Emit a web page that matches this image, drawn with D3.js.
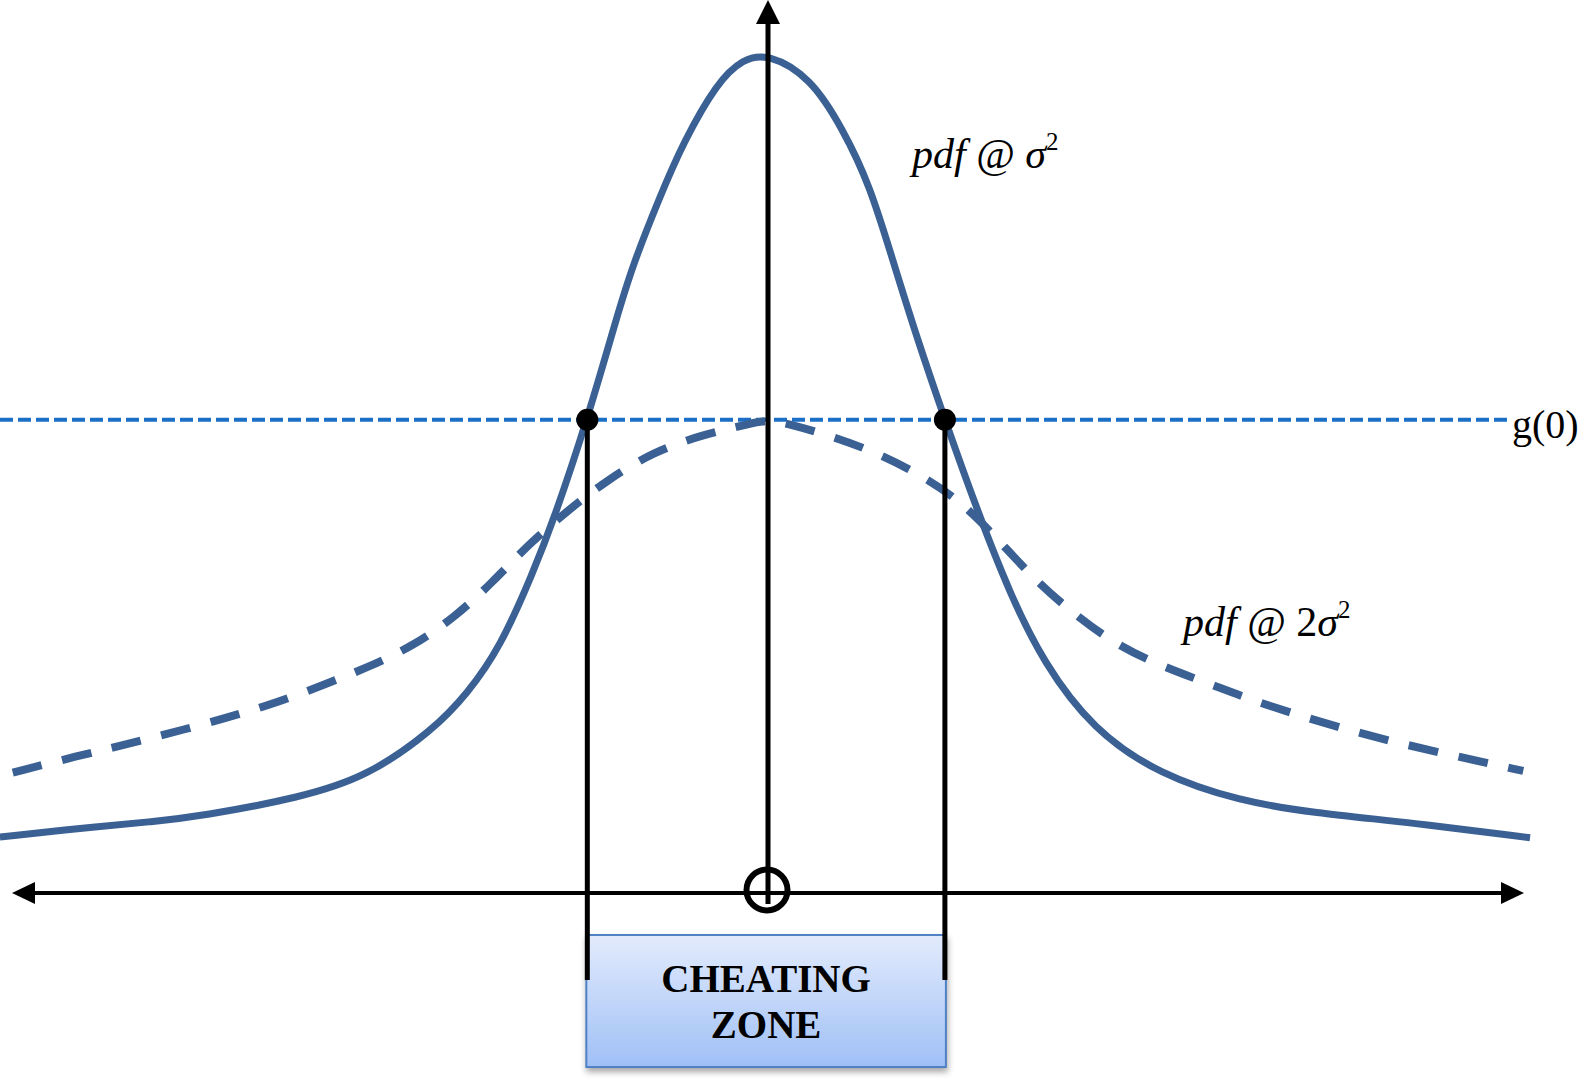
<!DOCTYPE html>
<html>
<head>
<meta charset="utf-8">
<script src="https://cdn.jsdelivr.net/npm/d3@7"></script>
<style>
  body { margin: 0; background: #fff; }
  svg { display: block; }
  text { font-family: "Liberation Serif", "Times New Roman", serif; fill: #000; }
</style>
</head>
<body>
<script>
// readings: x in axis units (0 = origin), y as share of the sigma^2 peak
var narrowX = [-10.16, -8.82, -8.17, -7.49, -6.19, -5.30, -4.43, -3.98, -3.54, -3.11, -2.84, -2.39, -2.00, -1.79, -1.43, -1.12, -0.67, -0.33, 0,
               0.56, 0.99, 1.35, 1.65, 1.97, 2.34, 2.77, 3.20, 3.64, 4.30, 5.19, 6.24, 7.20, 8.53, 10.08];
var narrowY = [0.067, 0.080, 0.085, 0.092, 0.114, 0.139, 0.195, 0.238, 0.294, 0.383, 0.445, 0.566, 0.689, 0.751, 0.833, 0.898, 0.970, 0.998, 1.004,
               0.976, 0.914, 0.846, 0.757, 0.664, 0.566, 0.457, 0.358, 0.276, 0.195, 0.141, 0.110, 0.096, 0.084, 0.066];

var wideX = [-9.99, -9.13, -8.47, -7.49, -6.61, -5.93, -5.29, -4.68, -4.13, -3.65, -3.17, -2.63, -2.11, -1.51, -0.87, -0.21, 0,
             0.28, 0.86, 1.49, 2.10, 2.61, 3.12, 3.57, 4.07, 4.62, 5.24, 5.88, 6.53, 7.87, 9.13, 9.99];
var wideY = [0.144, 0.164, 0.178, 0.201, 0.224, 0.247, 0.270, 0.296, 0.331, 0.371, 0.417, 0.459, 0.495, 0.528, 0.548, 0.562, 0.566,
             0.561, 0.546, 0.525, 0.496, 0.464, 0.415, 0.371, 0.332, 0.296, 0.270, 0.249, 0.226, 0.189, 0.163, 0.146];

var g0 = 0.566;                 // level of g(0)
var zoneEdges = [-2.39, 2.34];  // where the sigma^2 pdf crosses g(0)
var zoneWords = ["CHEATING", "ZONE"];

var width = 1583, height = 1086;

var x = d3.scaleLinear().domain([-10, 10]).range([12, 1524]);
var y = d3.scaleLinear().domain([0, 1]).range([893, 57]);

var svg = d3.select("body").append("svg")
    .attr("width", width)
    .attr("height", height);

var defs = svg.append("defs");
var grad = defs.append("linearGradient")
    .attr("id", "zoneFill")
    .attr("x1", 0).attr("y1", 0).attr("x2", 0).attr("y2", 1);
grad.append("stop").attr("offset", "0%").attr("stop-color", "#e2ebfc");
grad.append("stop").attr("offset", "100%").attr("stop-color", "#a0c0f6");

var shadow = defs.append("filter")
    .attr("id", "shadow")
    .attr("x", "-10%").attr("y", "-10%").attr("width", "130%").attr("height", "140%");
shadow.append("feDropShadow")
    .attr("dx", 1).attr("dy", 4)
    .attr("stdDeviation", 3)
    .attr("flood-color", "#000")
    .attr("flood-opacity", 0.35);

// cheating zone box
var boxTop = 935, boxBottom = 1067;
var boxLeft = x(zoneEdges[0]) - 1, boxRight = x(zoneEdges[1]) + 1;
svg.append("rect")
    .attr("x", boxLeft)
    .attr("y", boxTop)
    .attr("width", boxRight - boxLeft)
    .attr("height", boxBottom - boxTop)
    .attr("fill", "url(#zoneFill)")
    .attr("stroke", "#4f81c4")
    .attr("stroke-width", 2)
    .attr("filter", "url(#shadow)");

svg.selectAll(".zoneText")
    .data(zoneWords)
  .enter().append("text")
    .attr("class", "zoneText")
    .attr("x", (boxLeft + boxRight) / 2)
    .attr("y", function(d, i) { return 992 + i * 46; })
    .attr("text-anchor", "middle")
    .style("font-size", "39px")
    .style("font-weight", "bold")
    .text(function(d) { return d; });

// g(0) level
svg.append("line")
    .attr("x1", 0)
    .attr("x2", 1510)
    .attr("y1", y(g0))
    .attr("y2", y(g0))
    .attr("stroke", "#1b6fc6")
    .attr("stroke-width", 4)
    .attr("stroke-dasharray", "13,5");

svg.append("text")
    .attr("x", 1512)
    .attr("y", y(g0) + 18)
    .style("font-size", "40px")
    .text("g(0)");

// the two pdfs
var line = d3.line()
    .x(function(d) { return x(d[0]); })
    .y(function(d) { return y(d[1]); })
    .curve(d3.curveBasis);

var narrow = d3.zip(narrowX, narrowY);
var wide = d3.zip(wideX, wideY);

svg.append("path")
    .datum(wide)
    .attr("d", line)
    .attr("fill", "none")
    .attr("stroke", "#3b6194")
    .attr("stroke-width", 8)
    .attr("stroke-dasharray", "30,21");

svg.append("path")
    .datum(narrow)
    .attr("d", line)
    .attr("fill", "none")
    .attr("stroke", "#3b6194")
    .attr("stroke-width", 7);

// zone edges
svg.selectAll(".edge")
    .data(zoneEdges)
  .enter().append("line")
    .attr("class", "edge")
    .attr("x1", function(d) { return x(d); })
    .attr("x2", function(d) { return x(d); })
    .attr("y1", y(g0))
    .attr("y2", 980)
    .attr("stroke", "#000")
    .attr("stroke-width", 5);

// axes
var x0 = x(0), y0 = y(0);
svg.append("line")
    .attr("x1", x(-10) + 18).attr("x2", x(10) - 18)
    .attr("y1", y0).attr("y2", y0)
    .attr("stroke", "#000")
    .attr("stroke-width", 4);
svg.append("line")
    .attr("x1", x0).attr("x2", x0)
    .attr("y1", 18).attr("y2", y0 + 11)
    .attr("stroke", "#000")
    .attr("stroke-width", 5);

var heads = [
  [[x(-10), y0], [x(-10) + 23, y0 - 11], [x(-10) + 23, y0 + 11]],
  [[x(10), y0], [x(10) - 23, y0 - 11], [x(10) - 23, y0 + 11]],
  [[x0, 0], [x0 - 12, 24], [x0 + 12, 24]]
];
svg.selectAll(".head")
    .data(heads)
  .enter().append("path")
    .attr("class", "head")
    .attr("d", function(d) { return "M" + d.join("L") + "Z"; })
    .attr("fill", "#000");

svg.append("circle")
    .attr("cx", x0 - 1)
    .attr("cy", y0 - 3)
    .attr("r", 20.5)
    .attr("fill", "none")
    .attr("stroke", "#000")
    .attr("stroke-width", 6);

svg.selectAll(".cross")
    .data(zoneEdges)
  .enter().append("circle")
    .attr("class", "cross")
    .attr("cx", function(d) { return x(d); })
    .attr("cy", y(g0))
    .attr("r", 11)
    .attr("fill", "#000");

// curve labels
var lab1 = svg.append("text").attr("x", 912).attr("y", 168).style("font-size", "42px");
lab1.append("tspan").style("font-style", "italic").text("pdf ");
lab1.append("tspan").text("@ ");
lab1.append("tspan").style("font-style", "italic").text("σ");
lab1.append("tspan").attr("dy", -18).style("font-size", "25px").text("2");

var lab2 = svg.append("text").attr("x", 1183).attr("y", 636).style("font-size", "42px");
lab2.append("tspan").style("font-style", "italic").text("pdf ");
lab2.append("tspan").text("@ 2");
lab2.append("tspan").style("font-style", "italic").text("σ");
lab2.append("tspan").attr("dy", -18).style("font-size", "25px").text("2");
</script>
</body>
</html>
